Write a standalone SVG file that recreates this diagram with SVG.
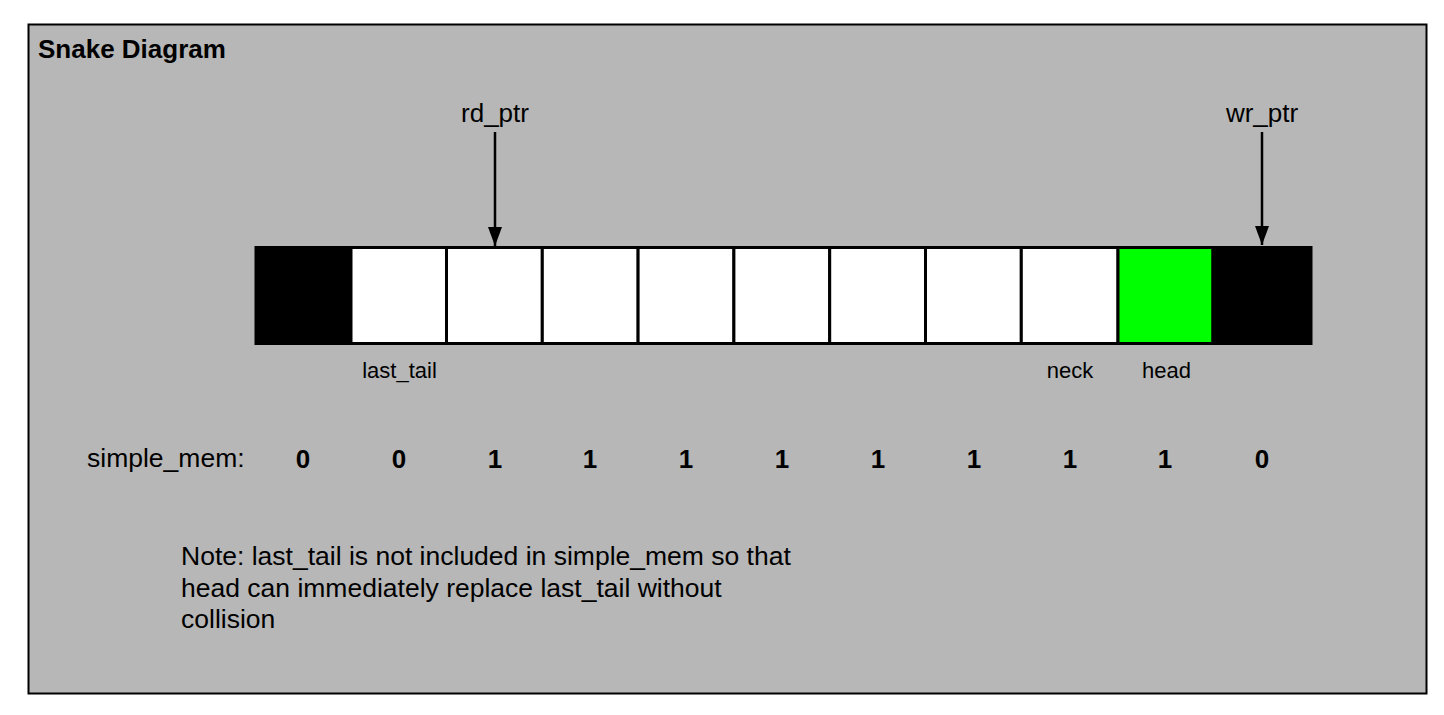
<svg xmlns="http://www.w3.org/2000/svg" width="1444" height="715" viewBox="0 0 1444 715">
<style>
.t{font-family:"Liberation Sans",Arial,sans-serif;fill:#000}
.lbl{font-size:26.5px}
.sm{font-size:22px;text-anchor:middle}
.ptr{font-size:26px;text-anchor:middle}
.d{font-size:26px;font-weight:bold;text-anchor:middle}
.cell{stroke:#000;stroke-width:3}
.w{fill:#fff}
.b{fill:#000}
.g{fill:#00ff00}
.arrow{stroke:#000;stroke-width:2.5;fill:none}
</style>
<defs>
<marker id="arr" markerUnits="userSpaceOnUse" markerWidth="20" markerHeight="16" refX="19" refY="8" orient="auto" viewBox="0 0 20 16">
<path d="M0,1 L19,8 L0,15 Z" fill="#000"/>
</marker>
</defs>
<rect x="0" y="0" width="1444" height="715" fill="#fff"/>
<g id="panel">
<rect x="28.5" y="24.5" width="1398" height="669" fill="#b7b7b7" stroke="#000" stroke-width="2"/>
<text class="t" x="38" y="58" style="font-size:26px;font-weight:bold">Snake Diagram</text>
</g>
<g id="cells">
<rect id="c0" class="cell b" x="256" y="247.5" width="95" height="96"/>
<rect id="c1" class="cell w" x="351" y="247.5" width="95.5" height="96"/>
<rect id="c2" class="cell w" x="446.5" y="247.5" width="95.8" height="96"/>
<rect id="c3" class="cell w" x="542.3" y="247.5" width="95.8" height="96"/>
<rect id="c4" class="cell w" x="638.1" y="247.5" width="95.8" height="96"/>
<rect id="c5" class="cell w" x="733.9" y="247.5" width="95.8" height="96"/>
<rect id="c6" class="cell w" x="829.7" y="247.5" width="95.8" height="96"/>
<rect id="c7" class="cell w" x="925.5" y="247.5" width="95.8" height="96"/>
<rect id="c8" class="cell w" x="1021.3" y="247.5" width="96.7" height="96"/>
<rect id="c9" class="cell g" x="1118" y="247.5" width="95" height="96"/>
<rect id="c10" class="cell b" x="1213" y="247.5" width="98" height="96"/>
</g>
<g id="rd_ptr"><text class="t ptr" x="495" y="122">rd_ptr</text></g>
<g id="wr_ptr"><text class="t ptr" x="1262" y="122">wr_ptr</text></g>
<g id="connectors">
<line class="arrow" x1="495" y1="132" x2="495" y2="246" marker-end="url(#arr)"/>
<line class="arrow" x1="1262" y1="132" x2="1262" y2="245" marker-end="url(#arr)"/>
</g>
<g id="labels">
<text class="t sm" x="399.5" y="378">last_tail</text>
<text class="t sm" x="1070" y="378">neck</text>
<text class="t sm" x="1166.5" y="378">head</text>
</g>
<g id="mem">
<text class="t lbl" x="87" y="467">simple_mem:</text>
<text class="t d" x="303" y="468">0</text>
<text class="t d" x="399" y="468">0</text>
<text class="t d" x="495" y="468">1</text>
<text class="t d" x="590" y="468">1</text>
<text class="t d" x="686" y="468">1</text>
<text class="t d" x="782" y="468">1</text>
<text class="t d" x="878" y="468">1</text>
<text class="t d" x="974" y="468">1</text>
<text class="t d" x="1070" y="468">1</text>
<text class="t d" x="1165" y="468">1</text>
<text class="t d" x="1262" y="468">0</text>
</g>
<g id="note">
<text class="t lbl" x="181" y="565">Note: last_tail is not included in simple_mem so that</text>
<text class="t lbl" x="181" y="596.5">head can immediately replace last_tail without</text>
<text class="t lbl" x="181" y="628">collision</text>
</g>
</svg>
